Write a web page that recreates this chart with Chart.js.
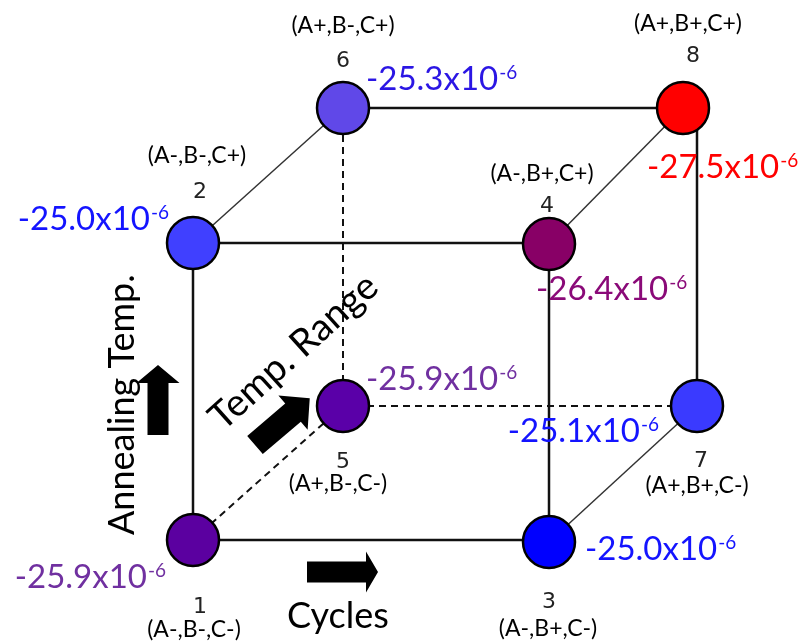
<!DOCTYPE html>
<html>
<head>
<meta charset="utf-8">
<script src="https://cdn.jsdelivr.net/npm/chart.js@4.4.0/dist/chart.umd.min.js"></script>
<style>
  html, body { margin: 0; padding: 0; background: #fff; }
</style>
</head>
<body>
<canvas id="cubeChart" width="804" height="643"></canvas>
<script>
// runs of the 2^3 design, one per cube corner
const nodeIds = [1, 2, 3, 4, 5, 6, 7, 8];
const runLabels = ['(A-,B-,C-)', '(A-,B-,C+)', '(A-,B+,C-)', '(A-,B+,C+)', '(A+,B-,C-)', '(A+,B-,C+)', '(A+,B+,C-)', '(A+,B+,C+)'];
const values = [-25.9, -25.0, -25.0, -26.4, -25.9, -25.3, -25.1, -27.5];  // x10^-6
const valueExp = '-6';

// where each corner sits in the drawing (x right, y down)
const nodeX = [193, 193, 549, 549, 343, 343, 697, 683];
const nodeY = [540, 243, 542, 244, 406, 108, 406, 108];

// cube edges (by node id) and how they are drawn
const edges = [[1, 2], [1, 3], [2, 4], [3, 4], [6, 8], [8, 7], [2, 6], [4, 8], [3, 7], [1, 5], [5, 6], [5, 7]];
const edgeKinds = ['solid', 'solid', 'solid', 'solid', 'solid', 'solid', 'thin', 'thin', 'thin', 'dashed', 'dashed', 'dashed'];
const edgeDirs = ['v', 'h', 'h', 'v', 'h', 'v', 'd', 'd', 'd', 'd', 'v', 'h'];

const nodeColors = ['#5b00a0', '#4040ff', '#0000ff', '#880066', '#5a00a8', '#6048e8', '#3a3aff', '#ff0000'];
const valueColors = ['#7030a0', '#1414ff', '#1414ff', '#8a0a78', '#7030a0', '#2b16e4', '#1414ff', '#ff0000'];

// label placement relative to the corner centre
const valueLayout = [
  { align: 'right', dx: -28, dy: 48 },
  { align: 'right', dx: -25, dy: -13 },
  { align: 'left', dx: 36, dy: 18 },
  { align: 'left', dx: -13, dy: 56 },
  { align: 'left', dx: 23, dy: -16 },
  { align: 'left', dx: 23, dy: -18 },
  { align: 'right', dx: -39, dy: 36 },
  { align: 'left', dx: -36, dy: 70 }
];
const idLayout = [[7, 73], [7, -45], [0, 66], [-2, -32], [0, 62], [0, -41], [4, 61], [10, -46]];
const runLayout = [[1, 97], [4, -80], [-1, 94], [-7, -63], [-5, 85], [0, -75], [0, 87], [5, -77]];

const edgeStyles = {
  solid: { borderColor: '#111', borderWidth: 2.5, borderDash: [] },
  thin: { borderColor: '#333', borderWidth: 1.5, borderDash: [] },
  dashed: { borderColor: '#111', borderWidth: 2, borderDash: [7, 5] }
};

// vertical edges keep the lower corner's x, horizontal ones the first corner's y
const edgeDatasets = edges.map(function (e, i) {
  const a = e[0] - 1, b = e[1] - 1;
  let p = { x: nodeX[a], y: nodeY[a] }, q = { x: nodeX[b], y: nodeY[b] };
  if (edgeDirs[i] === 'v') {
    const lowX = nodeY[a] > nodeY[b] ? nodeX[a] : nodeX[b];
    p.x = lowX; q.x = lowX;
  } else if (edgeDirs[i] === 'h') {
    q.y = p.y;
  }
  return Object.assign({
    type: 'line',
    data: [p, q],
    pointRadius: 0,
    fill: false,
    order: 2
  }, edgeStyles[edgeKinds[i]]);
});

const nodeDataset = {
  type: 'scatter',
  data: nodeIds.map((id, i) => ({ x: nodeX[i], y: nodeY[i] })),
  pointRadius: 26,
  pointHoverRadius: 26,
  backgroundColor: nodeColors,
  borderColor: '#000',
  borderWidth: 2.5,
  order: 0
};

function drawArrow(ctx, x, y, angle, len, shaftW, headW, headL) {
  ctx.save();
  ctx.translate(x, y);
  ctx.rotate(angle);
  ctx.beginPath();
  ctx.moveTo(0, -shaftW / 2);
  ctx.lineTo(len - headL, -shaftW / 2);
  ctx.lineTo(len - headL, -headW / 2);
  ctx.lineTo(len, 0);
  ctx.lineTo(len - headL, headW / 2);
  ctx.lineTo(len - headL, shaftW / 2);
  ctx.lineTo(0, shaftW / 2);
  ctx.closePath();
  ctx.fillStyle = '#000';
  ctx.fill();
  ctx.restore();
}

function drawRotatedText(ctx, text, x, y, angle, font) {
  ctx.save();
  ctx.translate(x, y);
  ctx.rotate(angle);
  ctx.font = font;
  ctx.fillStyle = '#000';
  ctx.textAlign = 'left';
  ctx.textBaseline = 'alphabetic';
  ctx.fillText(text, 0, 0);
  ctx.restore();
}

// corner numbers, run codes, values, axis names and arrows
const cubeLabels = {
  id: 'cubeLabels',
  afterDatasetsDraw(chart) {
    const ctx = chart.ctx;
    const xs = chart.scales.x, ys = chart.scales.y;
    const mainFont = '33px Lato';
    const supFont = '19px Lato';

    ctx.save();
    nodeIds.forEach(function (id, i) {
      const cx = xs.getPixelForValue(nodeX[i]);
      const cy = ys.getPixelForValue(nodeY[i]);

      ctx.fillStyle = '#222';
      ctx.textAlign = 'center';
      ctx.textBaseline = 'alphabetic';
      ctx.font = '22px "DejaVu Sans"';
      ctx.fillText(String(id), cx + idLayout[i][0], cy + idLayout[i][1]);

      ctx.fillStyle = '#000';
      ctx.font = '23px Lato';
      ctx.fillText(runLabels[i], cx + runLayout[i][0], cy + runLayout[i][1]);

      const main = values[i].toFixed(1) + 'x10';
      ctx.font = mainFont;
      const wMain = ctx.measureText(main).width;
      ctx.font = supFont;
      const wSup = ctx.measureText(valueExp).width;
      const lay = valueLayout[i];
      let x0 = cx + lay.dx;
      if (lay.align === 'right') x0 -= wMain + wSup;
      const base = cy + lay.dy;
      ctx.textAlign = 'left';
      ctx.fillStyle = valueColors[i];
      ctx.font = mainFont;
      ctx.fillText(main, x0, base);
      ctx.font = supFont;
      ctx.fillText(valueExp, x0 + wMain + 1, base - 11);
    });
    ctx.restore();

    // factor directions
    drawRotatedText(ctx, 'Cycles', 287, 628, 0, '36px Lato');
    drawRotatedText(ctx, 'Annealing Temp.', 134, 535, -Math.PI / 2, '36px Lato');
    drawRotatedText(ctx, 'Temp. Range', 223, 432, -42 * Math.PI / 180, '38px Lato');

    drawArrow(ctx, 307, 572, 0, 71, 21, 41, 12);
    drawArrow(ctx, 158, 435, -Math.PI / 2, 70, 21, 43, 18);
    drawArrow(ctx, 255, 445, -40.5 * Math.PI / 180, 72, 24, 45, 22);
  }
};

new Chart(document.getElementById('cubeChart'), {
  type: 'scatter',
  data: { datasets: edgeDatasets.concat([nodeDataset]) },
  options: {
    responsive: false,
    animation: false,
    layout: { padding: 0, autoPadding: false },
    scales: {
      x: { type: 'linear', min: 0, max: 804, display: false },
      y: { type: 'linear', min: 0, max: 643, reverse: true, display: false }
    },
    plugins: {
      legend: { display: false },
      tooltip: { enabled: false }
    }
  },
  plugins: [cubeLabels]
});
</script>
</body>
</html>
